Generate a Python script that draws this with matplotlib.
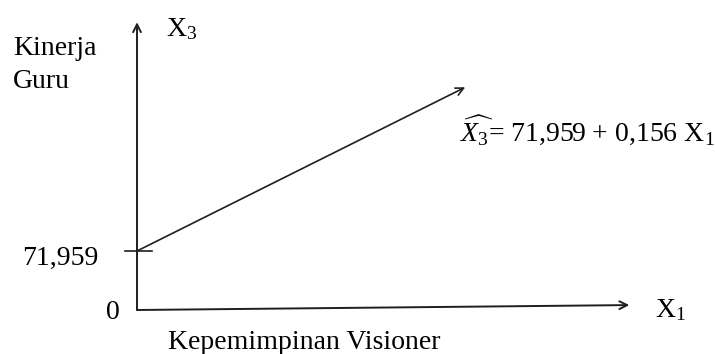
import matplotlib
matplotlib.use('Agg')
import matplotlib.pyplot as plt

plt.rcParams['font.family'] = ['Liberation Serif', 'DejaVu Serif']
plt.rcParams['mathtext.fontset'] = 'custom'
plt.rcParams['mathtext.rm'] = 'Liberation Serif'
plt.rcParams['mathtext.it'] = 'Liberation Serif:italic'

# regresi: X3 = 71,959 + 0,156 X1
intercept = 71.959
slope = 0.156
x_line = [0, 1280]
y_tick_vals = [0, 71.959]
y_tick_labels = ['0', '71,959']
x_name = 'X$_1$'
y_name = 'X$_3$'
x_label = 'Kepemimpinan Visioner'
y_label_lines = ['Kinerja', 'Guru']
eq_label = r'$\widehat{X_3}$= 71,959 + 0,156 X$_1$'

# skala: satuan data per piksel
sx = 3.9
sy = 71.959 / 59
ox, oy = 137, 310   # titik asal dalam piksel

fig = plt.figure(figsize=(7.15, 3.54), dpi=100)
ax = fig.add_axes([0, 0, 1, 1])
ax.set_xlim(-ox * sx, (715 - ox) * sx)
ax.set_ylim(-(354 - oy) * sy, oy * sy)
ax.axis('off')

col = '#1f1f1f'
fs = 20

# sumbu
ax.annotate('', xy=(1920, 6), xytext=(0, 0),
            arrowprops=dict(arrowstyle='->', lw=1.4, color=col, mutation_scale=14, shrinkA=0, shrinkB=0))
ax.annotate('', xy=(0, 351), xytext=(0, 0),
            arrowprops=dict(arrowstyle='->', lw=1.4, color=col, mutation_scale=14, shrinkA=0, shrinkB=0))

# garis regresi
y_line = [intercept + slope * x for x in x_line]
ax.annotate('', xy=(x_line[1], y_line[1]), xytext=(x_line[0], y_line[0]),
            arrowprops=dict(arrowstyle='->', lw=1.2, color=col, mutation_scale=14, shrinkA=0, shrinkB=0))

# tanda pada sumbu y
ax.plot([-47, 58], [y_tick_vals[1]] * 2, color=col, lw=1.2)

ax.text(-152, 55, y_tick_labels[1], ha='right', va='baseline', fontsize=fs)
ax.text(-66, -11, y_tick_labels[0], ha='right', va='baseline', fontsize=fs)

ax.text(2020, -8.5, x_name, ha='left', va='baseline', fontsize=fs)
ax.text(115, 334, y_name, ha='left', va='baseline', fontsize=fs)
ax.text(121, -47.5, x_label, ha='left', va='baseline', fontsize=fs)
ax.text(-483, 311, y_label_lines[0], ha='left', va='baseline', fontsize=fs)
ax.text(-483, 271, y_label_lines[1], ha='left', va='baseline', fontsize=fs)
ax.text(1260, 205, eq_label, ha='left', va='baseline', fontsize=fs)

fig.savefig('out.png', dpi=100)
